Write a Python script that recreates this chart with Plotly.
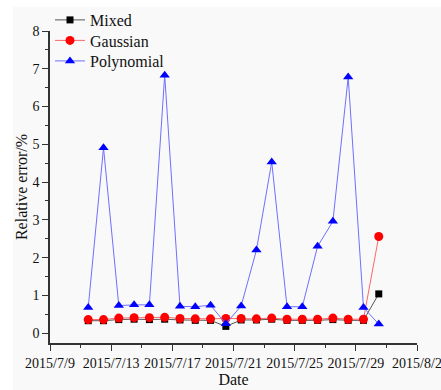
import plotly.graph_objects as go

# Daily relative error (%) of three fitting models, sampled at noon
dates = [f"2015-07-{d:02d} 12:00" for d in range(11, 31)]

mixed = [0.33, 0.33, 0.36, 0.37, 0.36, 0.37, 0.35, 0.34, 0.34, 0.18,
         0.35, 0.35, 0.37, 0.34, 0.34, 0.34, 0.36, 0.34, 0.34, 1.04]
gaussian = [0.36, 0.36, 0.40, 0.41, 0.41, 0.42, 0.39, 0.38, 0.38, 0.39,
            0.39, 0.38, 0.40, 0.37, 0.37, 0.37, 0.40, 0.37, 0.37, 2.56]
polynomial = [0.68, 4.91, 0.73, 0.75, 0.75, 6.83, 0.71, 0.70, 0.74, 0.25,
              0.72, 2.20, 4.53, 0.70, 0.70, 2.30, 2.96, 6.78, 0.68, 0.24]

series = [
    ("Mixed", mixed, "#000000", "#555555", "square", 7),
    ("Gaussian", gaussian, "#ff0000", "#ff6666", "circle", 9),
    ("Polynomial", polynomial, "#0000ff", "#6f6fff", "triangle-up", 9),
]

serif = "Liberation Serif, Times New Roman, serif"

W, H = 441, 390
ml, mr, mt, mb = 50, 24, 31, 47
pw, ph = W - ml - mr, H - mt - mb

fig = go.Figure()
legend_names = ["legend", "legend2", "legend3"]
legend_rows = [20, 40.5, 61]   # vertical centre of each legend row, px from top
legend_cfg = {}
for (name, vals, mcol, lcol, sym, size), lg, row in zip(series, legend_names, legend_rows):
    fig.add_trace(go.Scatter(
        x=dates, y=vals, name=name, mode="lines+markers", legend=lg,
        line=dict(color=lcol, width=1),
        marker=dict(color=mcol, symbol=sym, size=size, line=dict(width=0)),
    ))
    legend_cfg[lg] = dict(
        x=0.0, y=(H - mb - row) / ph, xanchor="left", yanchor="middle",
        bgcolor="rgba(0,0,0,0)", borderwidth=0,
        font=dict(family=serif, size=16, color="#111111"),
        itemwidth=30,
    )

axis_common = dict(
    showline=True, linecolor="#333333", linewidth=1.5,
    showgrid=False, zeroline=False,
    ticks="outside", ticklen=6, tickwidth=1.2, tickcolor="#333333",
    tickfont=dict(family=serif, size=14, color="#111111"),
    ticklabeloverflow="allow",
)

fig.update_xaxes(
    **axis_common,
    type="date",
    range=["2015-07-09", "2015-08-02"],
    tick0="2015-07-09", dtick=4 * 86400000,
    tickformat="%Y/%-m/%-d", tickangle=0,
    minor=dict(dtick=2 * 86400000, ticks="outside", ticklen=3,
               tickcolor="#333333", tickwidth=1.2),
    title=dict(text="Date", font=dict(family=serif, size=16, color="#111111"),
               standoff=1),
)
fig.update_yaxes(
    **axis_common,
    range=[-0.26, 8],
    tick0=0, dtick=1,
    minor=dict(dtick=0.5, ticks="outside", ticklen=3,
               tickcolor="#333333", tickwidth=1.2),
    title=dict(text="Relative error/%",
               font=dict(family=serif, size=16, color="#111111"),
               standoff=1),
)

# white border strips along the top and left edges of the canvas
fig.add_shape(type="rect", xref="paper", yref="paper",
              x0=-ml / pw, x1=(13 - ml) / pw, y0=-mb / ph, y1=(H - mb) / ph,
              fillcolor="white", line_width=0, layer="below")
fig.add_shape(type="rect", xref="paper", yref="paper",
              x0=-ml / pw, x1=(W - ml) / pw, y0=(H - mb - 7) / ph,
              y1=(H - mb) / ph,
              fillcolor="white", line_width=0, layer="below")

fig.update_layout(
    width=W, height=H,
    margin=dict(l=ml, r=mr, t=mt, b=mb, autoexpand=False),
    paper_bgcolor="#f9f9f9", plot_bgcolor="#f9f9f9",
    showlegend=True,
    **legend_cfg,
)

fig.write_html("out.html")
